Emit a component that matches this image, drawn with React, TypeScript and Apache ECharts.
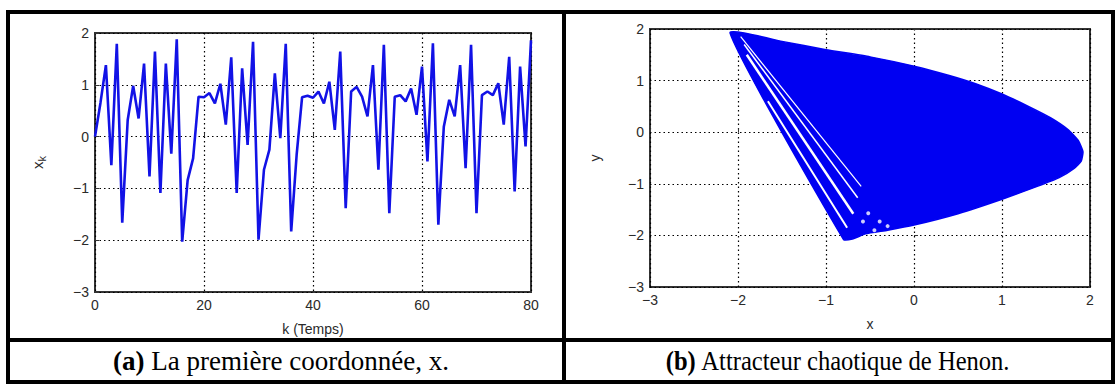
import React, { useEffect, useRef } from 'react';
import * as echarts from 'echarts';

// Left panel: first coordinate x_k of the Henon sequence, k = 0..80
const xkValues = [
  0, 0.65, 1.38, -0.55, 1.79, -1.66, 0.32, 0.98, 0.35, 1.41, -0.77,
  1.64, -1.09, 1.41, -0.33, 1.88, -2.03, -0.84, -0.42, 0.77, 0.76,
  0.84, 0.64, 1.02, 0.23, 1.53, -1.09, 1.32, -0.16, 1.83, -1.99,
  -0.64, -0.25, 1.22, -0.03, 1.79, -1.83, -0.35, 0.76, 0.79, 0.75,
  0.87, 0.64, 1.06, 0.13, 1.64, -1.38, 0.87, 0.96, 0.77, 0.39,
  1.38, -0.64, 1.77, -1.48, 0.77, 0.80, 0.68, 0.93, 0.42, 1.35,
  -0.48, 1.80, -1.70, 0.19, 0.71, 0.39, 1.38, -0.61, 1.77, -1.48,
  0.80, 0.87, 0.80, 1.03, 0.23, 1.54, -1.06, 1.35, -0.19, 1.86,
];

// Right panel: outline of the filled Henon attractor region (x, y)
const henonBoundaryX = [
  -2.09, -1.5, -1.0, -0.5, 0.0, 0.4, 0.7, 1.0, 1.3, 1.55, 1.75, 1.87, 1.92, 1.9,
  1.82, 1.65, 1.4, 1.0, 0.5, 0.0, -0.3, -0.55, -0.7, -0.8,
];
const henonBoundaryY = [
  1.92, 1.76, 1.6, 1.46, 1.28, 1.1, 0.94, 0.74, 0.5, 0.28, 0.05, -0.17, -0.38, -0.56,
  -0.7, -0.88, -1.05, -1.3, -1.58, -1.8, -1.9, -1.97, -2.07, -2.08,
];

// White gaps between the strands of the attractor
const gapStartX = [-1.97, -1.93, -1.9, -1.66];
const gapStartY = [1.85, 1.7, 1.5, 0.6];
const gapEndX = [-0.6, -0.64, -0.69, -0.76];
const gapEndY = [-1.05, -1.27, -1.58, -1.85];
const gapWidths = [1.2, 1.5, 2.5, 2];

// small white holes near the bottom of the strands
const holeX = [-0.58, -0.52, -0.39, -0.45, -0.3];
const holeY = [-1.73, -1.57, -1.73, -1.9, -1.82];

const captionA = ['(a)', ' La première coordonnée, x.'];
const captionB = ['(b)', ' Attracteur chaotique de Henon.'];

const leftXName = 'k (Temps)';
const rightXName = 'x';
const rightYName = 'y';

const fmt = (v: number) => (v < 0 ? '\u2212' + Math.abs(v) : String(v));

const BLUE = '#0000f2';
const LABEL = '#2a2a2a';
const SANS = '"Liberation Sans", Arial, sans-serif';
const SERIF = '"Liberation Serif", "Times New Roman", serif';

function axisCommon() {
  return {
    axisLine: { show: false },
    axisTick: { show: true, inside: true, length: 4, lineStyle: { color: '#333', width: 1 } },
    axisLabel: { color: LABEL, fontSize: 14, fontFamily: SANS, margin: 6, formatter: fmt },
    splitLine: { show: true, lineStyle: { color: '#000', width: 1.2, type: [1.5, 3] } },
    nameTextStyle: { color: LABEL, fontSize: 14, fontFamily: SANS },
  };
}

function caption(parts: string[], x: number, sx: number) {
  return {
    type: 'text', z: 10, x, y: 361, scaleX: sx, scaleY: 1,
    style: {
      text: '{b|' + parts[0] + '}' + parts[1],
      fontFamily: SERIF, fontSize: 27, fill: '#000',
      align: 'center', verticalAlign: 'middle',
      rich: { b: { fontWeight: 'bold', fontFamily: SERIF, fontSize: 27, fill: '#000' } },
    },
  };
}

export default function App() {
  const ref = useRef<HTMLDivElement>(null);
  useEffect(() => {
    if (!ref.current) return;
    const chart = echarts.init(ref.current, undefined, { renderer: 'svg' });
    const lineData = xkValues.map((v, i) => [i, v]);
    const option: any = {
      animation: false,
      backgroundColor: '#fff',
      grid: [
        { left: 95, top: 33, width: 436, height: 259, show: true, borderColor: '#333', borderWidth: 2, backgroundColor: '#fff' },
        { left: 650, top: 29, width: 440, height: 258, show: true, borderColor: '#333', borderWidth: 2, backgroundColor: '#fff' },
      ],
      xAxis: [
        { ...axisCommon(), gridIndex: 0, type: 'value', min: 0, max: 80, interval: 20, name: leftXName, nameLocation: 'middle', nameGap: 30 },
        { ...axisCommon(), gridIndex: 1, type: 'value', min: -3, max: 2, interval: 1, name: rightXName, nameLocation: 'middle', nameGap: 30 },
      ],
      yAxis: [
        {
          ...axisCommon(), gridIndex: 0, type: 'value', min: -3, max: 2, interval: 1,
          name: '{x|x}{k|k}', nameLocation: 'middle', nameGap: 48, nameRotate: 90,
          nameTextStyle: {
            color: LABEL, fontFamily: SANS,
            rich: { x: { fontSize: 15, color: LABEL, fontFamily: SANS }, k: { fontSize: 11, color: LABEL, fontFamily: SANS, padding: [8, 0, 0, 0] } },
          },
        },
        { ...axisCommon(), gridIndex: 1, type: 'value', min: -3, max: 2, interval: 1, name: rightYName, nameLocation: 'middle', nameGap: 48, nameRotate: 90 },
      ],
      series: [
        {
          type: 'line', xAxisIndex: 0, yAxisIndex: 0, data: lineData, showSymbol: false, symbol: 'none',
          lineStyle: { color: '#1212e6', width: 2.6 }, z: 3,
        },
        {
          type: 'custom', xAxisIndex: 1, yAxisIndex: 1, data: [[0, 0]], z: 3,
          renderItem: (_p: any, api: any) => ({
            type: 'polygon',
            shape: { points: henonBoundaryX.map((x, i) => api.coord([x, henonBoundaryY[i]])), smooth: 0.15 },
            style: { fill: BLUE, stroke: BLUE, lineWidth: 1.5 },
          }),
        },
        {
          type: 'lines', coordinateSystem: 'cartesian2d', xAxisIndex: 1, yAxisIndex: 1, z: 4,
          lineStyle: { color: '#fff', opacity: 1 },
          data: gapStartX.map((x, i) => ({
            coords: [[x, gapStartY[i]], [gapEndX[i], gapEndY[i]]],
            lineStyle: { width: gapWidths[i], color: '#fff', opacity: 1 },
          })),
        },
        {
          type: 'scatter', xAxisIndex: 1, yAxisIndex: 1, z: 4, symbolSize: 4,
          itemStyle: { color: '#fff' },
          data: holeX.map((x, i) => [x, holeY[i]]),
        },
      ],
      graphic: [
        { type: 'rect', z: 10, shape: { x: 8, y: 12, width: 1105, height: 370 }, style: { fill: 'none', stroke: '#000', lineWidth: 4 } },
        { type: 'line', z: 10, shape: { x1: 564, y1: 12, x2: 564, y2: 382 }, style: { stroke: '#000', lineWidth: 4 } },
        { type: 'line', z: 10, shape: { x1: 8, y1: 340, x2: 1113, y2: 340 }, style: { stroke: '#000', lineWidth: 4 } },
        caption(captionA, 281, 1.0),
        caption(captionB, 838, 0.91),
      ],
    };
    chart.setOption(option);
    return () => chart.dispose();
  }, []);
  return <div ref={ref} style={{ position: 'absolute', left: 0, top: 0, width: 1115, height: 385 }} />;
}
